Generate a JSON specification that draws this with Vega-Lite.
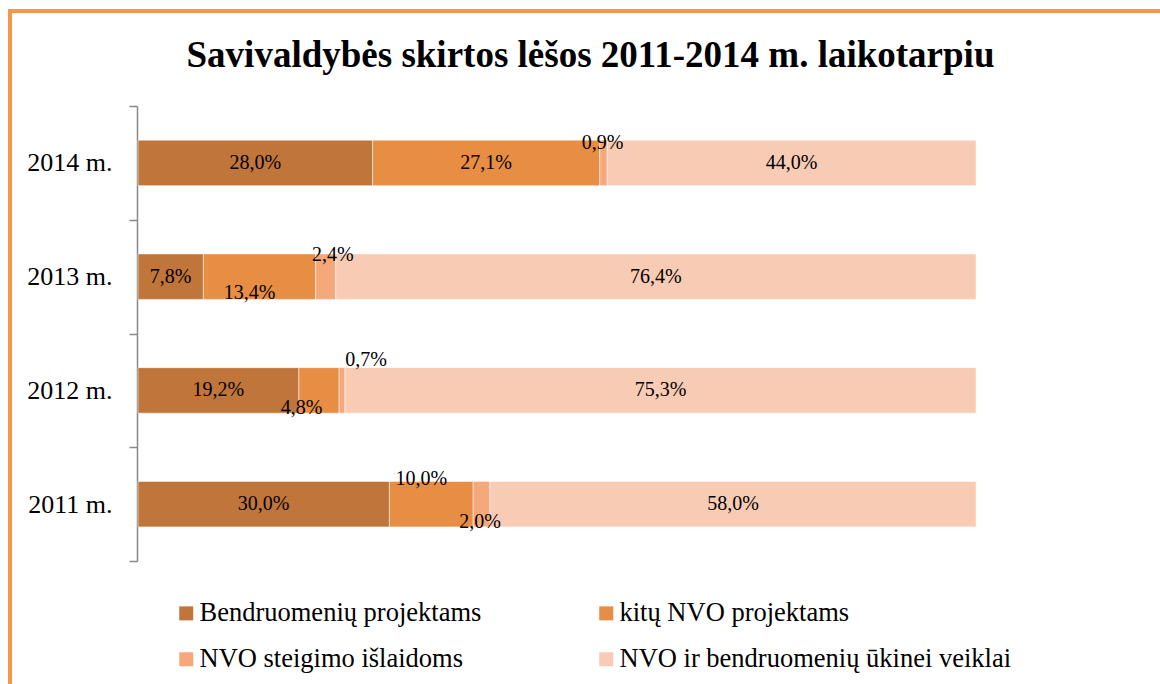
{
  "$schema": "https://vega.github.io/schema/vega-lite/v6.json",
  "width": 1155,
  "height": 678,
  "autosize": {"type": "none"},
  "padding": {"left": 10, "top": 11, "right": -5, "bottom": -5},
  "background": "white",
  "config": {
    "locale": {"number": {"decimal": ",", "thousands": " ", "grouping": [3], "currency": ["", " €"]}},
    "view": {"stroke": "#F79646", "strokeWidth": 4},
    "font": "Liberation Serif"
  },
  "title": {
    "text": "Savivaldybės skirtos lėšos 2011-2014 m. laikotarpiu",
    "font": "Liberation Serif",
    "fontSize": 37,
    "fontWeight": "bold",
    "color": "black",
    "anchor": "middle",
    "frame": "group",
    "baseline": "alphabetic",
    "offset": 0,
    "dy": 106,
    "dx": 3
  },
  "data": {
    "values": [
      {"metai": "2014 m.", "kategorija": "Bendruomenių projektams", "eil": 1, "dalis": 0.280},
      {"metai": "2014 m.", "kategorija": "kitų NVO projektams", "eil": 2, "dalis": 0.271},
      {"metai": "2014 m.", "kategorija": "NVO steigimo išlaidoms", "eil": 3, "dalis": 0.009},
      {"metai": "2014 m.", "kategorija": "NVO ir bendruomenių ūkinei veiklai", "eil": 4, "dalis": 0.440},
      {"metai": "2013 m.", "kategorija": "Bendruomenių projektams", "eil": 1, "dalis": 0.078},
      {"metai": "2013 m.", "kategorija": "kitų NVO projektams", "eil": 2, "dalis": 0.134},
      {"metai": "2013 m.", "kategorija": "NVO steigimo išlaidoms", "eil": 3, "dalis": 0.024},
      {"metai": "2013 m.", "kategorija": "NVO ir bendruomenių ūkinei veiklai", "eil": 4, "dalis": 0.764},
      {"metai": "2012 m.", "kategorija": "Bendruomenių projektams", "eil": 1, "dalis": 0.192},
      {"metai": "2012 m.", "kategorija": "kitų NVO projektams", "eil": 2, "dalis": 0.048},
      {"metai": "2012 m.", "kategorija": "NVO steigimo išlaidoms", "eil": 3, "dalis": 0.007},
      {"metai": "2012 m.", "kategorija": "NVO ir bendruomenių ūkinei veiklai", "eil": 4, "dalis": 0.753},
      {"metai": "2011 m.", "kategorija": "Bendruomenių projektams", "eil": 1, "dalis": 0.300},
      {"metai": "2011 m.", "kategorija": "kitų NVO projektams", "eil": 2, "dalis": 0.100},
      {"metai": "2011 m.", "kategorija": "NVO steigimo išlaidoms", "eil": 3, "dalis": 0.020},
      {"metai": "2011 m.", "kategorija": "NVO ir bendruomenių ūkinei veiklai", "eil": 4, "dalis": 0.580}
    ]
  },
  "transform": [
    {"stack": "dalis", "groupby": ["metai"], "sort": [{"field": "eil", "order": "ascending"}], "as": ["x0", "x1"]},
    {"calculate": "(datum.x0 + datum.x1) / 2", "as": "vidurys"}
  ],
  "encoding": {
    "y": {
      "field": "metai",
      "type": "nominal",
      "sort": ["2014 m.", "2013 m.", "2012 m.", "2011 m."],
      "scale": {"range": [95, 550], "paddingInner": 0, "paddingOuter": 0},
      "axis": {
        "orient": "left",
        "offset": -127,
        "title": null,
        "grid": false,
        "domainColor": "#898989",
        "domainWidth": 1.5,
        "tickColor": "#898989",
        "tickWidth": 1.5,
        "tickSize": 8,
        "tickBand": "extent",
        "labelFont": "Liberation Serif",
        "labelFontSize": 26,
        "labelColor": "black",
        "labelPadding": 17
      }
    }
  },
  "layer": [
    {
      "mark": {"type": "bar", "height": {"band": 0.4}, "stroke": "white", "strokeWidth": 0.75, "strokeOpacity": 0.7},
      "encoding": {
        "x": {"field": "x0", "type": "quantitative", "scale": {"domain": [-0.152745, 1.225537], "nice": false, "zero": false}, "axis": null},
        "x2": {"field": "x1"},
        "color": {
          "field": "kategorija",
          "type": "nominal",
          "scale": {
            "domain": ["Bendruomenių projektams", "kitų NVO projektams", "NVO steigimo išlaidoms", "NVO ir bendruomenių ūkinei veiklai"],
            "range": ["#C0753A", "#E88D44", "#F5A97A", "#F8CBB4"]
          },
          "legend": {
            "orient": "none",
            "direction": "horizontal",
            "legendX": 163,
            "legendY": 589,
            "columns": 2,
            "title": null,
            "symbolType": "square",
            "symbolSize": 196,
            "symbolStrokeWidth": 0,
            "labelFont": "Liberation Serif",
            "labelFontSize": 26.5,
            "labelColor": "black",
            "labelLimit": 600,
            "labelOffset": 0,
            "columnPadding": 111,
            "rowPadding": 19,
            "padding": 0
          }
        }
      }
    },
    {
      "transform": [{"filter": "datum.eil == 1 || datum.eil == 4 || (datum.metai == '2014 m.' && datum.eil == 2)"}],
      "mark": {"type": "text", "font": "Liberation Serif", "fontSize": 20, "color": "black", "baseline": "middle", "align": "center"},
      "encoding": {
        "x": {"field": "vidurys", "type": "quantitative"},
        "text": {"field": "dalis", "type": "quantitative", "format": ".1%"}
      }
    },
    {
      "transform": [{"filter": "datum.metai == '2014 m.' && datum.eil == 3"}],
      "mark": {"type": "text", "font": "Liberation Serif", "fontSize": 20, "color": "black", "baseline": "middle", "align": "center", "dx": -1, "dy": -19.5},
      "encoding": {
        "x": {"field": "vidurys", "type": "quantitative"},
        "text": {"field": "dalis", "type": "quantitative", "format": ".1%"}
      }
    },
    {
      "transform": [{"filter": "datum.metai == '2013 m.' && datum.eil == 3"}],
      "mark": {"type": "text", "font": "Liberation Serif", "fontSize": 20, "color": "black", "baseline": "middle", "align": "center", "dx": 7, "dy": -22},
      "encoding": {
        "x": {"field": "vidurys", "type": "quantitative"},
        "text": {"field": "dalis", "type": "quantitative", "format": ".1%"}
      }
    },
    {
      "transform": [{"filter": "datum.metai == '2013 m.' && datum.eil == 2"}],
      "mark": {"type": "text", "font": "Liberation Serif", "fontSize": 20, "color": "black", "baseline": "middle", "align": "center", "dx": -10, "dy": 16.5},
      "encoding": {
        "x": {"field": "vidurys", "type": "quantitative"},
        "text": {"field": "dalis", "type": "quantitative", "format": ".1%"}
      }
    },
    {
      "transform": [{"filter": "datum.metai == '2012 m.' && datum.eil == 3"}],
      "mark": {"type": "text", "font": "Liberation Serif", "fontSize": 20, "color": "black", "baseline": "middle", "align": "center", "dx": 24, "dy": -30},
      "encoding": {
        "x": {"field": "vidurys", "type": "quantitative"},
        "text": {"field": "dalis", "type": "quantitative", "format": ".1%"}
      }
    },
    {
      "transform": [{"filter": "datum.metai == '2012 m.' && datum.eil == 2"}],
      "mark": {"type": "text", "font": "Liberation Serif", "fontSize": 20, "color": "black", "baseline": "middle", "align": "center", "dx": -17.5, "dy": 18},
      "encoding": {
        "x": {"field": "vidurys", "type": "quantitative"},
        "text": {"field": "dalis", "type": "quantitative", "format": ".1%"}
      }
    },
    {
      "transform": [{"filter": "datum.metai == '2011 m.' && datum.eil == 2"}],
      "mark": {"type": "text", "font": "Liberation Serif", "fontSize": 20, "color": "black", "baseline": "middle", "align": "center", "dx": -10, "dy": -25},
      "encoding": {
        "x": {"field": "vidurys", "type": "quantitative"},
        "text": {"field": "dalis", "type": "quantitative", "format": ".1%"}
      }
    },
    {
      "transform": [{"filter": "datum.metai == '2011 m.' && datum.eil == 3"}],
      "mark": {"type": "text", "font": "Liberation Serif", "fontSize": 20, "color": "black", "baseline": "middle", "align": "center", "dx": -1.5, "dy": 17.5},
      "encoding": {
        "x": {"field": "vidurys", "type": "quantitative"},
        "text": {"field": "dalis", "type": "quantitative", "format": ".1%"}
      }
    }
  ]
}
